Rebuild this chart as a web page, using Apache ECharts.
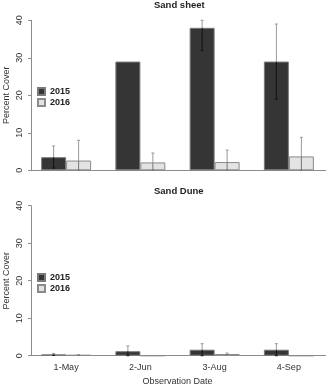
<!DOCTYPE html>
<html><head><meta charset="utf-8">
<script src="https://cdn.jsdelivr.net/npm/echarts@6/dist/echarts.min.js"></script>
<style>html,body{margin:0;padding:0;background:#fff}#c{width:326px;height:386px}</style>
</head><body><div id="c"></div>
<script>
const categories = ['1-May', '2-Jun', '3-Aug', '4-Sep'];
const years = ['2015', '2016'];
const yTicks = [0, 10, 20, 30, 40];
const sheet2015 = [3.5, 29, 38, 29];
const sheet2016 = [2.6, 2.1, 2.2, 3.7];
const sheet2015Err = [[0.6, 6.5], null, [32, 40], [19, 39]];
const sheet2016Err = [[0, 8], [0, 4.6], [0, 5.4], [0, 8.8]];
const dune2015 = [0.35, 1.2, 1.6, 1.6];
const dune2016 = [0.2, 0, 0.45, 0];
const dune2015Err = [[0.1, 0.6], [0, 2.6], [0, 3.2], [0, 3.2]];
const dune2016Err = [[0.1, 0.3], null, [0.25, 0.7], null];

const FONT = 'Liberation Sans';
const GAP = 0.327;
const chart = echarts.init(document.getElementById('c'));

function errData(arr, bars) {
  const out = [];
  arr.forEach((e, i) => { if (e) out.push([i, e[0], e[1], bars[i]]); });
  return out;
}
function errSeries(arr, bars, axisIdx, side, inColor, outColor) {
  return {
    type: 'custom', xAxisIndex: axisIdx, yAxisIndex: axisIdx, silent: true, z: 5,
    data: errData(arr, bars),
    renderItem: function (params, api) {
      const band = api.size([1, 0])[0];
      const bw = band * (1 - GAP) / 2;
      const i = api.value(0), lo = api.value(1), hi = api.value(2), b = api.value(3);
      const c0 = api.coord([i, lo]);
      const c1 = api.coord([i, hi]);
      const cb = api.coord([i, Math.min(Math.max(b, lo), hi)]);
      const x = c0[0] + side * bw / 2;
      const cap = 1.5;
      const sIn = { stroke: inColor, lineWidth: 1 };
      const sOut = { stroke: outColor, lineWidth: 1 };
      return { type: 'group', children: [
        { type: 'line', shape: { x1: x, y1: c0[1], x2: x, y2: cb[1] }, style: lo < b ? sIn : sOut },
        { type: 'line', shape: { x1: x, y1: cb[1], x2: x, y2: c1[1] }, style: hi > b ? sOut : sIn },
        { type: 'line', shape: { x1: x - cap, y1: c1[1], x2: x + cap, y2: c1[1] }, style: hi > b ? sOut : sIn },
        { type: 'line', shape: { x1: x - cap, y1: c0[1], x2: x + cap, y2: c0[1] }, style: lo < b ? sIn : sOut }
      ]};
    }
  };
}
function barSeries(name, data, axisIdx, dark) {
  return {
    name: name, type: 'bar', xAxisIndex: axisIdx, yAxisIndex: axisIdx, data: data,
    barGap: '0%', barCategoryGap: (GAP * 100) + '%',
    itemStyle: dark ? { color: '#353535', borderColor: '#7a7a7a', borderWidth: 1 }
                    : { color: '#e3e3e3', borderColor: '#8a8a8a', borderWidth: 1 }
  };
}
const tops = [20.3, 205.7];
const grids = tops.map(t => ({ left: 29, right: 0, top: t, height: 150, outerBoundsMode: 'none', containLabel: false }));
const xAxes = [0, 1].map(i => ({
  type: 'category', gridIndex: i, data: categories,
  axisLine: { lineStyle: { color: '#8c8c8c', width: 1 } },
  axisTick: { show: false },
  axisLabel: { show: i === 1, color: '#333', fontFamily: FONT, fontSize: 9, margin: 7 },
  name: i === 1 ? 'Observation Date' : '', nameLocation: 'middle', nameGap: 21,
  nameTextStyle: { color: '#333', fontFamily: FONT, fontSize: 9 }
}));
const yAxes = [0, 1].map(i => ({
  type: 'value', gridIndex: i, min: yTicks[0], max: yTicks[yTicks.length - 1], interval: 10,
  offset: -2,
  axisLine: { show: true, lineStyle: { color: '#8c8c8c', width: 1 } },
  axisTick: { show: true, length: 3, lineStyle: { color: '#8c8c8c' } },
  splitLine: { show: false },
  axisLabel: { rotate: 90, color: '#333', fontFamily: FONT, fontSize: 9, margin: 7 },
  name: 'Percent Cover', nameLocation: 'middle', nameGap: 20, nameMoveOverlap: false,
  nameTextStyle: { color: '#333', fontFamily: FONT, fontSize: 9 }
}));
chart.setOption({
  animation: false,
  backgroundColor: '#fff',
  title: [
    { text: 'Sand sheet', left: 154, top: 0, padding: 0, textStyle: { fontFamily: FONT, fontSize: 9.5, fontWeight: 'bold', color: '#222' } },
    { text: 'Sand Dune', left: 154, top: 186, padding: 0, textStyle: { fontFamily: FONT, fontSize: 9.5, fontWeight: 'bold', color: '#222' } }
  ],
  legend: [
    { data: years, orient: 'vertical', left: 37, top: 87, padding: 0, itemWidth: 7, itemHeight: 7, itemGap: 2,
      icon: 'rect', textStyle: { fontFamily: FONT, fontSize: 9, fontWeight: 'bold', color: '#222' }, selectedMode: false },
    { data: years, orient: 'vertical', left: 37, top: 273, padding: 0, itemWidth: 7, itemHeight: 7, itemGap: 2,
      icon: 'rect', textStyle: { fontFamily: FONT, fontSize: 9, fontWeight: 'bold', color: '#222' }, selectedMode: false }
  ],
  grid: grids, xAxis: xAxes, yAxis: yAxes,
  series: [
    barSeries(years[0], sheet2015, 0, true),
    barSeries(years[1], sheet2016, 0, false),
    barSeries(years[0], dune2015, 1, true),
    barSeries(years[1], dune2016, 1, false),
    errSeries(sheet2015Err, sheet2015, 0, -1, '#111', '#999'),
    errSeries(sheet2016Err, sheet2016, 0, 1, '#777', '#999'),
    errSeries(dune2015Err, dune2015, 1, -1, '#111', '#999'),
    errSeries(dune2016Err, dune2016, 1, 1, '#777', '#999')
  ]
});
</script></body></html>
